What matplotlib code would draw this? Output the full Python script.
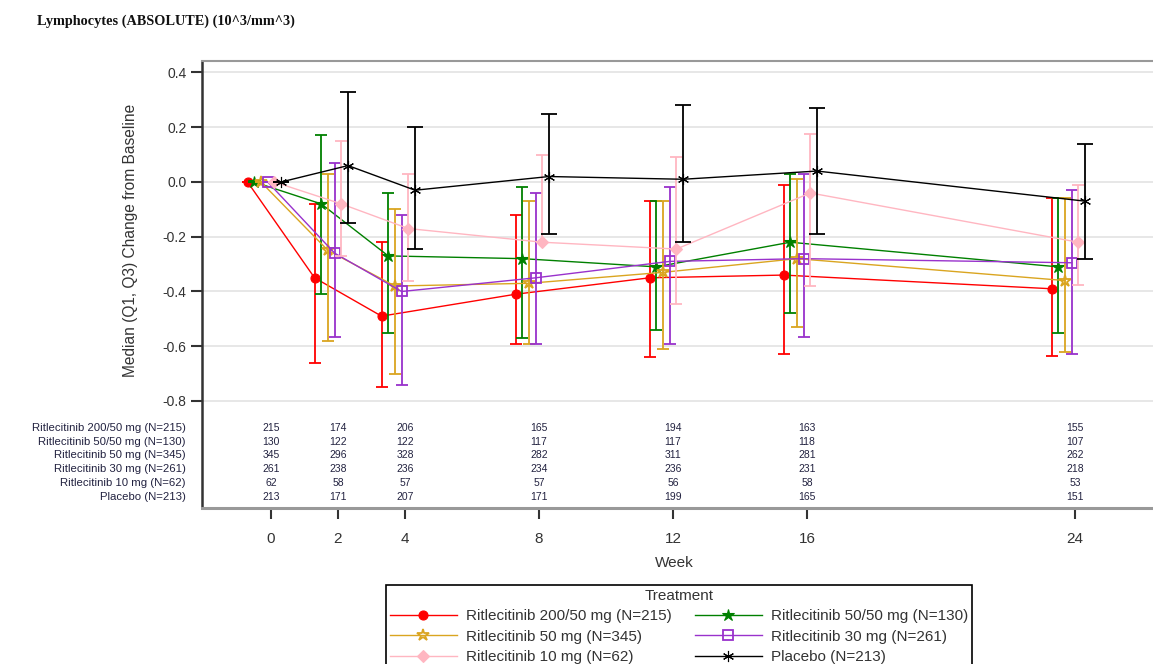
import matplotlib
matplotlib.use("Agg")
import matplotlib.pyplot as plt
import matplotlib.transforms as mtransforms
import numpy as np

plt.rcParams['font.family'] = ['Liberation Sans', 'DejaVu Sans']

# ---------------- data ----------------
weeks = [0, 2, 4, 8, 12, 16, 24]

series_names = [
    "Ritlecitinib 200/50 mg (N=215)",
    "Ritlecitinib 50/50 mg (N=130)",
    "Ritlecitinib 50 mg (N=345)",
    "Ritlecitinib 30 mg (N=261)",
    "Ritlecitinib 10 mg (N=62)",
    "Placebo (N=213)",
]

med_200_50 = [0, -0.35, -0.49, -0.41, -0.35, -0.34, -0.39]
q1_200_50 = [0, -0.66, -0.75, -0.59, -0.64, -0.63, -0.635]
q3_200_50 = [0, -0.08, -0.22, -0.12, -0.07, -0.01, -0.06]

med_50_50 = [0, -0.08, -0.27, -0.28, -0.31, -0.22, -0.31]
q1_50_50 = [0, -0.41, -0.55, -0.57, -0.54, -0.48, -0.55]
q3_50_50 = [0, 0.17, -0.04, -0.02, -0.07, 0.03, -0.06]

med_50 = [0, -0.25, -0.38, -0.37, -0.33, -0.28, -0.36]
q1_50 = [0, -0.58, -0.70, -0.59, -0.61, -0.53, -0.62]
q3_50 = [0, 0.03, -0.10, -0.07, -0.07, 0.01, -0.06]

med_30 = [0, -0.26, -0.40, -0.35, -0.29, -0.28, -0.295]
q1_30 = [0, -0.565, -0.74, -0.59, -0.59, -0.565, -0.63]
q3_30 = [0, 0.07, -0.12, -0.04, -0.02, 0.03, -0.03]

med_10 = [0, -0.08, -0.17, -0.22, -0.245, -0.04, -0.22]
q1_10 = [0, -0.27, -0.36, -0.22, -0.445, -0.38, -0.375]
q3_10 = [0, 0.15, 0.03, 0.10, 0.09, 0.175, -0.01]

med_pbo = [0, 0.06, -0.03, 0.02, 0.01, 0.04, -0.07]
q1_pbo = [0, -0.15, -0.245, -0.19, -0.22, -0.19, -0.28]
q3_pbo = [0, 0.33, 0.20, 0.25, 0.28, 0.27, 0.14]

n_200_50 = [215, 174, 206, 165, 194, 163, 155]
n_50_50 = [130, 122, 122, 117, 117, 118, 107]
n_50 = [345, 296, 328, 282, 311, 281, 262]
n_30 = [261, 238, 236, 234, 236, 231, 218]
n_10 = [62, 58, 57, 57, 56, 58, 53]
n_pbo = [213, 171, 207, 171, 199, 165, 151]

y_ticks = [0.4, 0.2, 0.0, -0.2, -0.4, -0.6, -0.8]

# ---------------- styles ----------------
meds = [med_200_50, med_50_50, med_50, med_30, med_10, med_pbo]
q1s = [q1_200_50, q1_50_50, q1_50, q1_30, q1_10, q1_pbo]
q3s = [q3_200_50, q3_50_50, q3_50, q3_30, q3_10, q3_pbo]
ns = [n_200_50, n_50_50, n_50, n_30, n_10, n_pbo]

colors = ["#ff0000", "#008000", "#daa520", "#9932cc", "#ffb6c1", "#000000"]
markers = ["o", "*", "*", "s", "D", (6, 2, 0)]
mfaces = ["#ff0000", "#008000", "none", "none", "#ffb6c1", "#000000"]
msizes = [6.5, 9, 9, 6.5, 6, 8]
offsets = [-0.7, -0.5, -0.3, -0.1, 0.1, 0.3]

W, H = 1153, 664
fig = plt.figure(figsize=(W / 100, H / 100), dpi=100)

ax_left, ax_right, ax_top, ax_bottom = 202, 1160, 61, 508
ax = fig.add_axes([ax_left / W, 1 - ax_bottom / H, (ax_right - ax_left) / W, (ax_bottom - ax_top) / H])

# pixel -> data mapping: week 0 at 271, 33.5 px/week ; 0.0 at y=182, 273.75 px per unit
xmin = (ax_left - 271) / 33.5
xmax = (ax_right - 271) / 33.5
ymax = (182 - ax_top) / 273.75
ymin = (182 - ax_bottom) / 273.75
ax.set_xlim(xmin, xmax)
ax.set_ylim(ymin, ymax)

for yt in y_ticks:
    ax.axhline(yt, color="#e3e3e3", lw=1.2, zorder=0)

handles = []
wk = np.array(weeks, dtype=float)
for i in range(6):
    x = wk + offsets[i]
    m = np.array(meds[i])
    lo = m - np.array(q1s[i])
    hi = np.array(q3s[i]) - m
    ax.errorbar(x, m, yerr=[lo, hi], fmt="none", ecolor=colors[i],
                elinewidth=1.3, capsize=4.5 if i < 5 else 5.5, capthick=1.3, zorder=2 + i)
    ln, = ax.plot(x, m, color=colors[i], lw=1.0, marker=markers[i],
                  markersize=msizes[i], markerfacecolor=mfaces[i],
                  markeredgecolor=colors[i], markeredgewidth=1.3 if mfaces[i] == "none" else 0.8,
                  zorder=3 + i)
    handles.append(ln)

# N table inside axes
row_y = [-0.9, -0.949, -0.999, -1.05, -1.101, -1.152]
trans_lbl = mtransforms.blended_transform_factory(fig.transFigure, ax.transData)
for i in range(6):
    fig.text(186 / W, row_y[i], series_names[i], transform=trans_lbl, ha="right", va="center",
             fontsize=8.2, color="#222240")
    for j, w in enumerate(weeks):
        ax.text(w, row_y[i], str(ns[i][j]), ha="center", va="center", fontsize=7.5, color="#222240")

ax.set_yticks(y_ticks)
ax.set_yticklabels([f"{v:.1f}" for v in y_ticks], fontsize=10, color="#333333")
ax.set_xticks(weeks)
ax.set_xticklabels([str(w) for w in weeks], fontsize=11, color="#333333")
ax.tick_params(axis="y", length=8, width=1.5, color="#333333", pad=3)
ax.tick_params(axis="x", length=8, width=1.5, color="#333333", pad=9)

ax.spines["right"].set_visible(False)
ax.spines["top"].set_color("#999999")
ax.spines["top"].set_linewidth(1.5)
ax.spines["left"].set_color("#333333")
ax.spines["left"].set_linewidth(1.8)
ax.spines["bottom"].set_color("#999999")
ax.spines["bottom"].set_linewidth(2.2)

fig.text(674 / W, 1 - 563 / H, "Week", ha="center", va="center", fontsize=11, color="#333333")
fig.text(130 / W, 1 - 240 / H, "Median (Q1, Q3) Change from Baseline", rotation=90,
         ha="center", va="center", fontsize=11.2, color="#333333")
fig.text(37 / W, 1 - 21 / H, "Lymphocytes (ABSOLUTE) (10^3/mm^3)", ha="left", va="center",
         fontsize=10.3, fontweight="bold", family=["Liberation Serif", "DejaVu Serif"], color="#111111")

order = [0, 2, 4, 1, 3, 5]
leg = fig.legend([handles[k] for k in order], [series_names[k] for k in order],
                 ncols=2, loc="upper center", bbox_to_anchor=(679 / W, 1 - 585 / H),
                 title="Treatment", fontsize=11, title_fontsize=11,
                 frameon=True, fancybox=False, edgecolor="#000000", framealpha=1,
                 handlelength=4.4, handletextpad=0.6, columnspacing=1.5,
                 labelspacing=0.42, borderpad=0.25, borderaxespad=0)
leg.get_frame().set_linewidth(1.2)
for t in leg.get_texts():
    t.set_color("#333333")
leg.get_title().set_color("#333333")

fig.savefig("out.png", dpi=100)
